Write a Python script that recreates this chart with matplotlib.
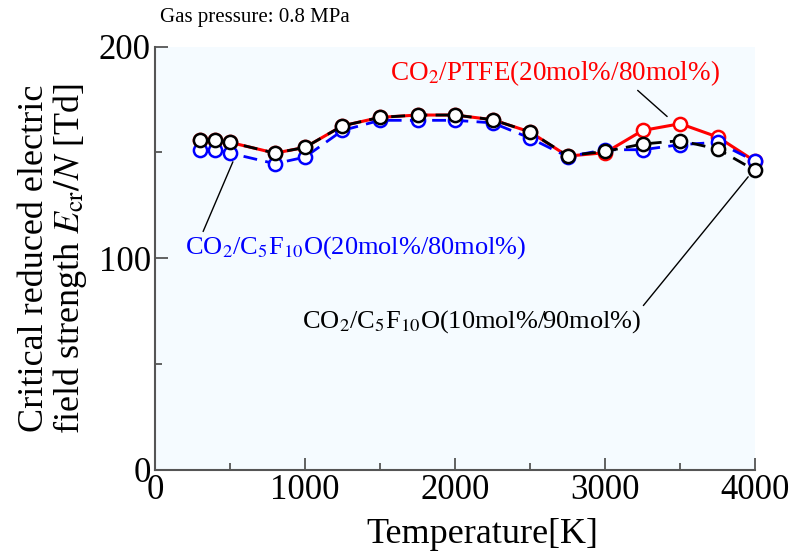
import matplotlib
matplotlib.use('Agg')
import matplotlib.pyplot as plt
from matplotlib.ticker import MultipleLocator

# temperatures [K]
temperature = [300, 400, 500, 800, 1000, 1250, 1500, 1750, 2000,
               2250, 2500, 2750, 3000, 3250, 3500, 3750, 4000]

# critical reduced field [Td]
ecr_ptfe = [155.7, 155.7, 154.8, 149.7, 152.4, 162.6, 166.6, 167.7, 167.7,
            165.5, 159.7, 148.3, 149.9, 160.4, 163.6, 157.3, 145.8]
ecr_c5_20 = [151.3, 151.3, 149.7, 144.7, 147.8, 160.4, 165.2, 165.2, 165.2,
             164.0, 156.8, 148.0, 151.3, 151.3, 153.7, 154.8, 145.8]
ecr_c5_10 = [155.7, 155.7, 154.8, 149.7, 152.4, 162.6, 166.6, 167.7, 167.7,
             165.5, 159.7, 148.5, 150.5, 154.0, 155.6, 151.6, 141.5]

lbl_ptfe = r'CO$_2$/PTFE(20mol%/80mol%)'
lbl_c5_20 = r'CO$_2$/C$_5$F$_{10}$O(20mol%/80mol%)'
lbl_c5_10 = r'CO$_2$/C$_5$F$_{10}$O(10mol%/90mol%)'

plt.rcParams['font.family'] = ['Liberation Serif', 'DejaVu Serif']
plt.rcParams['mathtext.fontset'] = 'stix'

fig = plt.figure(figsize=(7.9, 5.56), dpi=100)
ax = fig.add_axes([0.196, 0.155, 0.760, 0.761])
ax.set_facecolor('#f5fbff')

mk = dict(marker='o', markersize=9.5, markeredgewidth=1.8, markerfacecolor='white', clip_on=False)
ax.plot(temperature, ecr_ptfe, '-', color='red', lw=2.2, markeredgecolor='red', zorder=3, **mk)
ax.plot(temperature, ecr_c5_20, '--', color='blue', lw=2.0, markeredgecolor='blue',
        dashes=(5, 3), zorder=4, **mk)
ax.plot(temperature, ecr_c5_10, '--', color='black', lw=2.0, markeredgecolor='black',
        dashes=(5, 3), zorder=5, **mk)

ax.set_xlim(0, 4000)
ax.set_ylim(0, 200)
ax.xaxis.set_major_locator(MultipleLocator(1000))
ax.xaxis.set_minor_locator(MultipleLocator(500))
ax.yaxis.set_major_locator(MultipleLocator(100))
ax.yaxis.set_minor_locator(MultipleLocator(50))

for s in ['top', 'right']:
    ax.spines[s].set_visible(False)
for s in ['left', 'bottom']:
    ax.spines[s].set_color('#555555')
    ax.spines[s].set_linewidth(1.5)
ax.tick_params(which='both', direction='in', color='#555555', width=1.3, labelsize=25, pad=3)
ax.tick_params(which='major', length=9)
ax.tick_params(which='minor', length=5)

ax.set_xlabel('Temperature[K]', fontsize=26)
ax.xaxis.set_label_coords(0.545, -0.115)
ax.set_ylabel('Critical reduced electric\nfield strength $E_{\\rm cr}/N$ [Td]',
              fontsize=26, labelpad=7, linespacing=1.0)

ax.text(33, 214, 'Gas pressure: 0.8 MPa', fontsize=15, va='center', ha='left', clip_on=False)

ax.annotate(lbl_ptfe, xy=(3413, 167), xytext=(1570, 187.7), color='red', fontsize=19.5,
            va='center', ha='left',
            arrowprops=dict(arrowstyle='-', color='black', lw=1, shrinkA=0, shrinkB=0,
                            relpos=(0.74, 0.0)))
ax.annotate(lbl_c5_20, xy=(520, 145.6), xytext=(200, 105), color='blue', fontsize=19,
            va='center', ha='left',
            arrowprops=dict(arrowstyle='-', color='black', lw=1, shrinkA=0, shrinkB=0,
                            relpos=(0.05, 1.0)))
ax.annotate(lbl_c5_10, xy=(3953, 138.5), xytext=(980, 70), color='black', fontsize=19,
            va='center', ha='left',
            arrowprops=dict(arrowstyle='-', color='black', lw=1, shrinkA=0, shrinkB=0,
                            relpos=(1.0, 1.0)))

fig.savefig('out.png', dpi=100)
